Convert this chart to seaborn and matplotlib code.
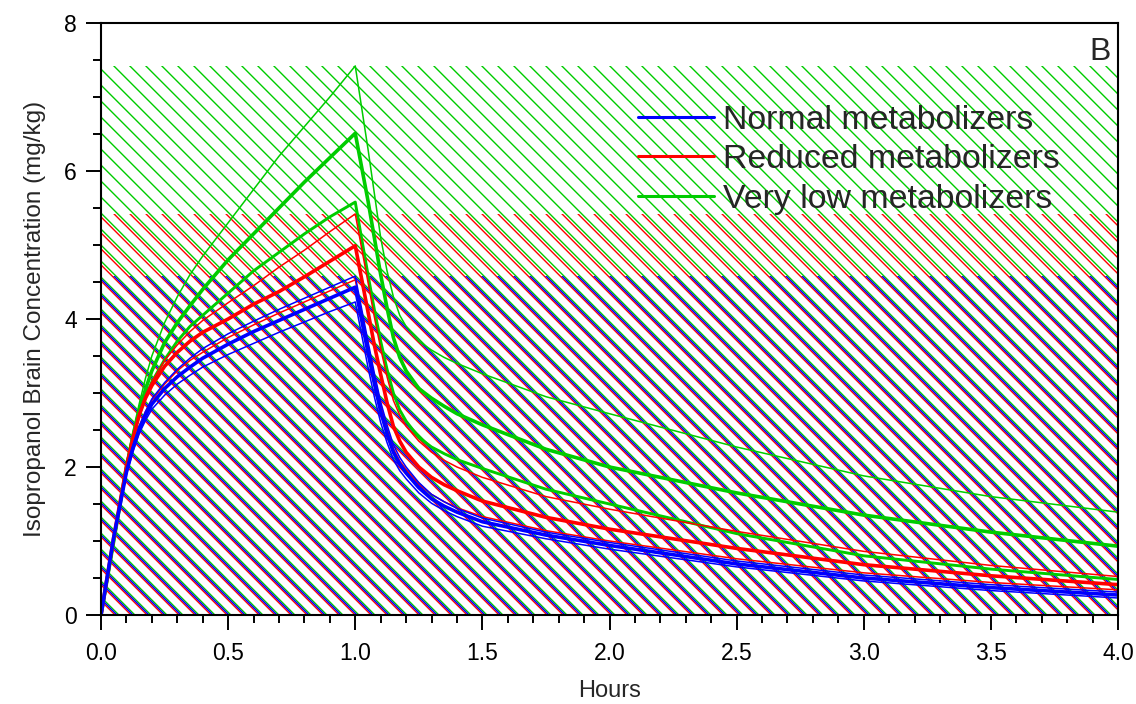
import numpy as np
import pandas as pd
import matplotlib
matplotlib.use("Agg")
import matplotlib.pyplot as plt
import matplotlib.transforms as mtransforms
from matplotlib.collections import LineCollection
from matplotlib.lines import Line2D
from matplotlib.ticker import MultipleLocator, FormatStrFormatter
import seaborn as sns

# Simulated isopropanol brain concentration (mg/kg) over time (hours):
# 1-hour exposure followed by washout; mean and bounds per metabolizer group.
hours = [0.0, 0.05, 0.1, 0.125, 0.15, 0.175, 0.2, 0.25, 0.3, 0.35, 0.4, 0.5, 0.6,
         0.7, 0.8, 0.9, 1.0, 1.05, 1.075, 1.1, 1.125, 1.15, 1.175, 1.2, 1.25, 1.3,
         1.35, 1.4, 1.5, 1.75, 2.0, 2.5, 3.0, 3.5, 4.0]

normal_upper = [0, 1.05, 1.95, 2.28, 2.55, 2.75, 2.92, 3.14, 3.32, 3.47, 3.6, 3.8, 3.97,
                4.13, 4.28, 4.43, 4.58, 3.7, 3.27, 2.88, 2.57, 2.3, 2.13, 2.0, 1.79, 1.63,
                1.53, 1.44, 1.31, 1.12, 0.98, 0.73, 0.54, 0.41, 0.31]
normal_mean = [0, 1.05, 1.93, 2.25, 2.5, 2.69, 2.85, 3.06, 3.22, 3.35, 3.47, 3.66, 3.83,
               3.98, 4.13, 4.28, 4.43, 3.55, 3.13, 2.75, 2.45, 2.2, 2.04, 1.92, 1.72, 1.57,
               1.47, 1.39, 1.26, 1.08, 0.94, 0.69, 0.5, 0.37, 0.27]
normal_lower = [0, 1.05, 1.9, 2.2, 2.45, 2.63, 2.78, 2.97, 3.12, 3.24, 3.35, 3.52, 3.67,
                3.82, 3.96, 4.1, 4.23, 3.35, 2.95, 2.6, 2.33, 2.1, 1.95, 1.84, 1.65, 1.51,
                1.41, 1.33, 1.2, 1.03, 0.89, 0.65, 0.46, 0.33, 0.23]

reduced_upper = [0, 1.05, 2.0, 2.4, 2.72, 2.97, 3.15, 3.44, 3.65, 3.83, 3.98, 4.22, 4.45,
                 4.7, 4.93, 5.18, 5.42, 4.5, 4.03, 3.6, 3.22, 2.9, 2.7, 2.55, 2.35, 2.2,
                 2.09, 2.0, 1.86, 1.6, 1.43, 1.13, 0.86, 0.67, 0.52]
reduced_mean = [0, 1.05, 2.0, 2.38, 2.7, 2.93, 3.1, 3.36, 3.55, 3.7, 3.82, 4.0, 4.2,
                4.37, 4.57, 4.78, 4.99, 4.1, 3.65, 3.25, 2.87, 2.55, 2.35, 2.2, 2.0, 1.86,
                1.76, 1.68, 1.54, 1.32, 1.16, 0.9, 0.68, 0.53, 0.41]
reduced_lower = [0, 1.05, 1.95, 2.28, 2.55, 2.75, 2.9, 3.12, 3.3, 3.44, 3.55, 3.75, 3.92,
                 4.08, 4.23, 4.38, 4.53, 3.65, 3.23, 2.85, 2.52, 2.25, 2.08, 1.97, 1.77, 1.63,
                 1.53, 1.45, 1.33, 1.14, 1.0, 0.76, 0.57, 0.44, 0.34]

verylow_upper = [0, 1.0, 2.05, 2.47, 2.85, 3.2, 3.5, 3.95, 4.3, 4.6, 4.85, 5.3, 5.75,
                 6.2, 6.6, 7.0, 7.42, 6.3, 5.7, 5.1, 4.65, 4.3, 4.05, 3.9, 3.7, 3.58,
                 3.48, 3.4, 3.26, 2.95, 2.72, 2.27, 1.88, 1.6, 1.39]
verylow_mean = [0, 1.0, 2.0, 2.4, 2.75, 3.05, 3.3, 3.68, 3.95, 4.18, 4.4, 4.8, 5.15,
                5.5, 5.85, 6.18, 6.51, 5.6, 5.1, 4.6, 4.15, 3.75, 3.48, 3.3, 3.06, 2.93,
                2.82, 2.72, 2.57, 2.24, 2.0, 1.65, 1.35, 1.12, 0.93]
verylow_lower = [0, 1.0, 2.0, 2.38, 2.7, 2.95, 3.15, 3.45, 3.7, 3.9, 4.05, 4.35, 4.65,
                 4.9, 5.15, 5.38, 5.58, 4.6, 4.13, 3.7, 3.32, 3.0, 2.77, 2.62, 2.4, 2.27,
                 2.18, 2.1, 1.98, 1.7, 1.5, 1.1, 0.8, 0.62, 0.48]

groups = ["Normal metabolizers", "Reduced metabolizers", "Very low metabolizers"]
group_colors = {"Normal metabolizers": "#0000FF",
                "Reduced metabolizers": "#FF0000",
                "Very low metabolizers": "#00CC00"}
series = {
    "Normal metabolizers": {"upper": normal_upper, "mean": normal_mean, "lower": normal_lower},
    "Reduced metabolizers": {"upper": reduced_upper, "mean": reduced_mean, "lower": reduced_lower},
    "Very low metabolizers": {"upper": verylow_upper, "mean": verylow_mean, "lower": verylow_lower},
}

rows = []
for g in groups:
    for curve, vals in series[g].items():
        for h, c in zip(hours, vals):
            rows.append({"Hours": h, "Conc": c, "group": g, "curve": curve})
df = pd.DataFrame(rows)

sns.set_style("ticks")
plt.rcParams["font.family"] = ["Liberation Sans", "DejaVu Sans"]

fig = plt.figure(figsize=(11.36, 7.04), dpi=100)
ax = fig.add_axes([101 / 1136, 89 / 704, 1017 / 1136, 592 / 704])
ax.set_xlim(0, 4)
ax.set_ylim(0, 8)

# Hatched range bands (0 .. peak of the upper bound), drawn as thin diagonal
# stripes; each group's stripes are nudged so overlapping bands interleave.
stripe_shift = {"Very low metabolizers": 1.9,
                "Reduced metabolizers": -1.9,
                "Normal metabolizers": 0.0}
spacing = 16.0
for g in ["Very low metabolizers", "Reduced metabolizers", "Normal metabolizers"]:
    top = max(series[g]["upper"])
    band = ax.fill_between([hours[0], hours[-1]], 0, top,
                           facecolor="none", edgecolor="none", linewidth=0, zorder=1)
    bb = ax.bbox
    k_start = bb.x0 + bb.y0 - spacing * 2
    k_vals = np.arange(k_start, bb.x1 + bb.y1 + spacing * 2, spacing) + stripe_shift[g]
    segs = [[(k - bb.y1 - 5, bb.y1 + 5), (k - bb.y0 + 5, bb.y0 - 5)] for k in k_vals]
    lc = LineCollection(segs, colors=group_colors[g], linewidths=1.0,
                        transform=mtransforms.IdentityTransform(), zorder=1.5)
    ax.add_collection(lc, autolim=False)
    lc.set_clip_path(band.get_paths()[0], band.get_transform())

# Curves: thin bounds, heavier means
widths = {"upper": 1.1, "mean": 2.6, "lower": 1.1}
for g in ["Very low metabolizers", "Reduced metabolizers", "Normal metabolizers"]:
    for curve in ["upper", "lower", "mean"]:
        lw = widths[curve]
        if g == "Very low metabolizers" and curve == "lower":
            lw = 2.1
        sub = df[(df["group"] == g) & (df["curve"] == curve)]
        sns.lineplot(data=sub, x="Hours", y="Conc", color=group_colors[g],
                     linewidth=lw, estimator=None, sort=False, legend=False,
                     ax=ax, zorder=3)

ax.set_xlim(0, 4)
ax.set_ylim(0, 8)
ax.xaxis.set_major_locator(MultipleLocator(0.5))
ax.xaxis.set_minor_locator(MultipleLocator(0.1))
ax.xaxis.set_major_formatter(FormatStrFormatter("%.1f"))
ax.yaxis.set_major_locator(MultipleLocator(2))
ax.yaxis.set_minor_locator(MultipleLocator(0.5))
ax.yaxis.set_major_formatter(FormatStrFormatter("%d"))

ax.tick_params(axis="both", which="major", direction="out", length=10.5, width=1.4,
               labelsize=16.5, color="black", labelcolor="black")
ax.tick_params(axis="both", which="minor", direction="out", length=5.5, width=1.4,
               color="black")
ax.tick_params(axis="x", which="major", pad=9)
ax.tick_params(axis="y", which="major", pad=7)
ax.tick_params(top=False, right=False, which="both")
for s in ax.spines.values():
    s.set_visible(True)
    s.set_linewidth(1.5)
    s.set_color("black")
    s.set_zorder(5)

ax.set_xlabel("Hours", fontsize=17, labelpad=11)
ax.set_ylabel("Isopropanol Brain Concentration (mg/kg)", fontsize=17.5, labelpad=13)

ax.text(0.993, 0.951, "B", transform=ax.transAxes, ha="right", va="center",
        fontsize=23, zorder=6)

handles = [Line2D([], [], color=group_colors[g], linewidth=2.2) for g in groups]
ax.legend(handles, groups, loc="upper left", bbox_to_anchor=(0.528, 0.862),
          frameon=False, fontsize=24.4, handlelength=2.24, handletextpad=0.27,
          labelspacing=0.25, borderpad=0, borderaxespad=0)

fig.savefig("out.png", dpi=100)
